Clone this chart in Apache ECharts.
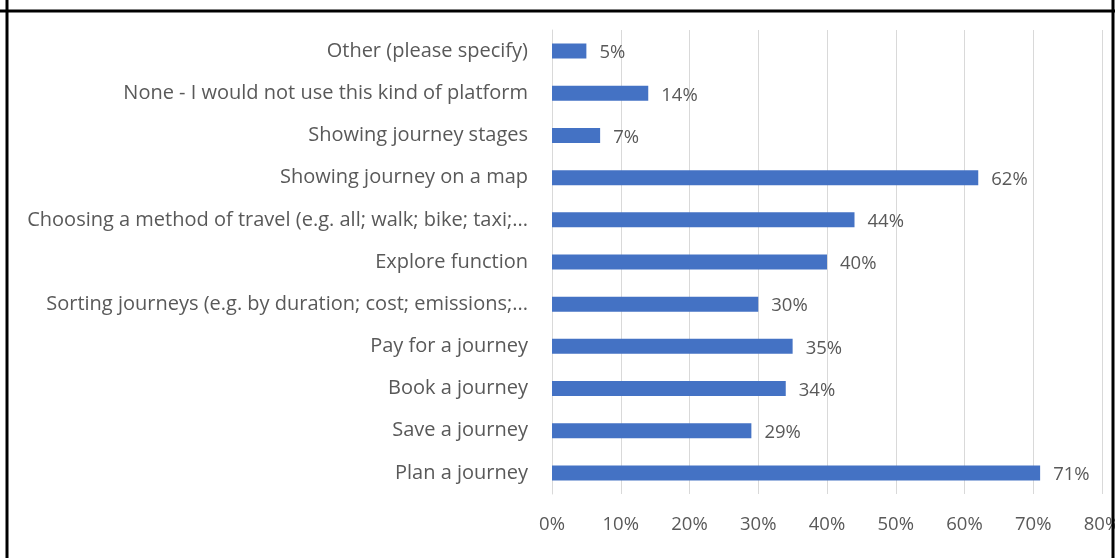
<!DOCTYPE html>
<html>
<head>
<meta charset="utf-8">
<style>
  html, body { margin: 0; padding: 0; background: #ffffff; }
  #chart { width: 1115px; height: 558px; }
</style>
<script src="https://cdn.jsdelivr.net/npm/echarts@6/dist/echarts.min.js"></script>
</head>
<body>
<div id="chart"></div>
<script>
// Platform features, listed top to bottom
const features = [
  'Other (please specify)',
  'None - I would not use this kind of platform',
  'Showing journey stages',
  'Showing journey on a map',
  'Choosing a method of travel (e.g. all; walk; bike; taxi;...',
  'Explore function',
  'Sorting journeys (e.g. by duration; cost; emissions;...',
  'Pay for a journey',
  'Book a journey',
  'Save a journey',
  'Plan a journey'
];
// Share of respondents (%)
const shares = [5, 14, 7, 62, 44, 40, 30, 35, 34, 29, 71];
// Percentage axis
const axisMin = 0;
const axisMax = 80;
const axisStep = 10;

const textColor = '#595959';
const font = '"Open Sans", Lato, sans-serif';

const chart = echarts.init(document.getElementById('chart'), null, { renderer: 'canvas' });

chart.setOption({
  animation: false,
  backgroundColor: '#ffffff',
  grid: {
    left: 552, right: 13, top: 30, bottom: 64,
    containLabel: false,
    outerBoundsMode: 'none'
  },
  xAxis: {
    type: 'value',
    min: axisMin,
    max: axisMax,
    interval: axisStep,
    axisLine: { show: false },
    axisTick: { show: false },
    splitLine: { show: true, lineStyle: { color: '#d9d9d9', width: 1 } },
    axisLabel: {
      margin: 21,
      color: textColor,
      fontFamily: font,
      fontSize: 18.5,
      formatter: v => v + '%'
    }
  },
  yAxis: {
    type: 'category',
    data: features,
    inverse: true,
    axisLine: { show: true, lineStyle: { color: '#d9d9d9', width: 1 } },
    axisTick: { show: false },
    axisLabel: {
      margin: 24,
      color: textColor,
      fontFamily: font,
      fontSize: 20
    }
  },
  series: [{
    type: 'bar',
    data: shares,
    barWidth: 15,
    itemStyle: { color: '#4472c4' },
    label: {
      show: true,
      position: 'right',
      distance: 13,
      offset: [0, 2],
      color: textColor,
      fontFamily: font,
      fontSize: 18.5,
      formatter: p => p.value + '%'
    }
  }],
  graphic: [
    // surrounding table-cell border
    { type: 'line', shape: { x1: 7, y1: 0, x2: 7, y2: 558 }, style: { stroke: '#000', lineWidth: 3 }, z: 100 },
    { type: 'line', shape: { x1: 1113, y1: 0, x2: 1113, y2: 558 }, style: { stroke: '#000', lineWidth: 3 }, z: 100 },
    { type: 'line', shape: { x1: 0, y1: 11, x2: 1115, y2: 11 }, style: { stroke: '#000', lineWidth: 3 }, z: 100 }
  ]
});
</script>
</body>
</html>
